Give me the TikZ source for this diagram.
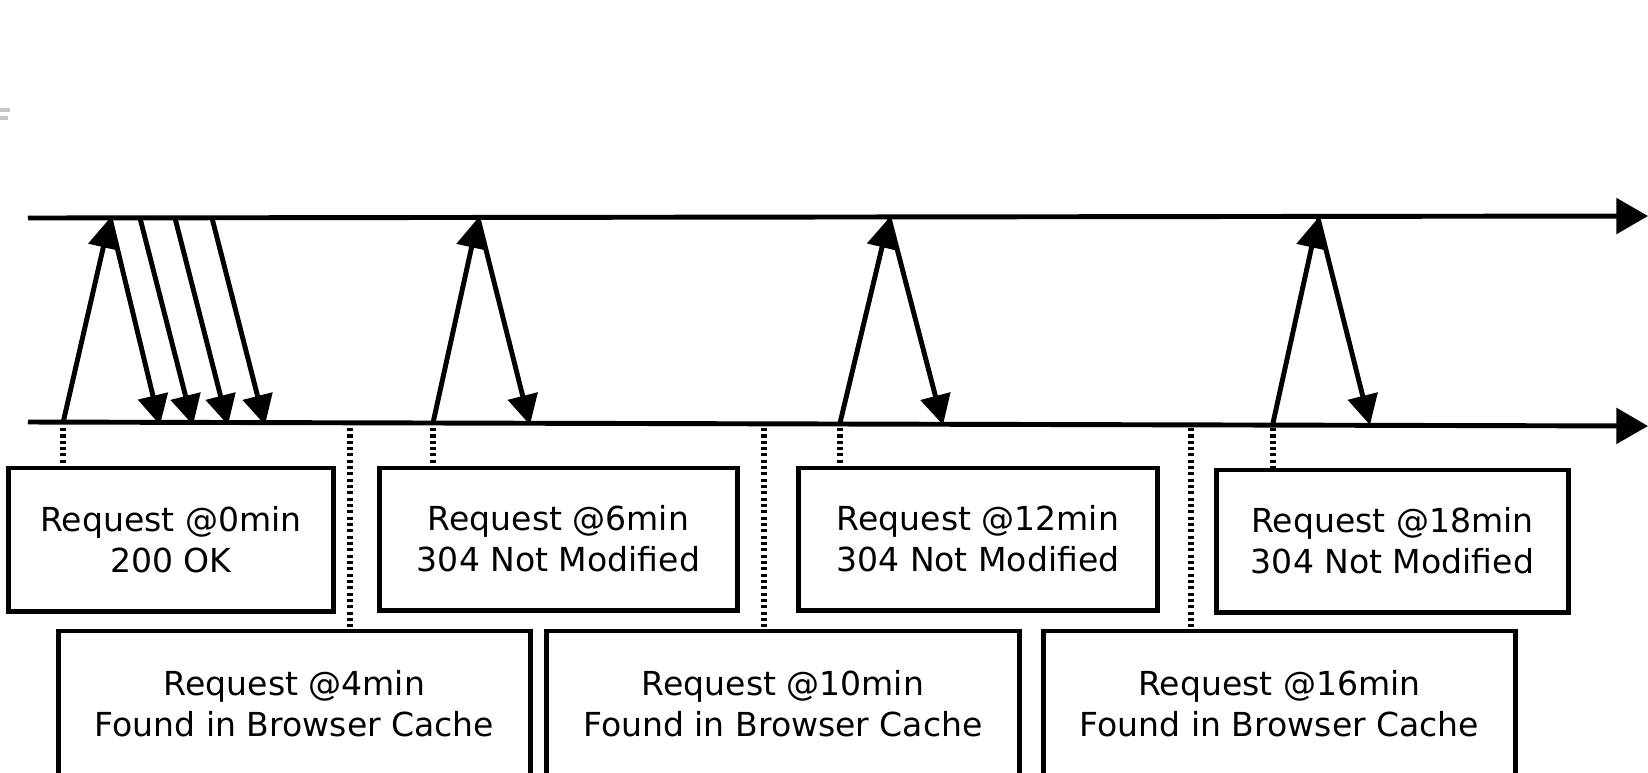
\documentclass[tikz,border=0pt]{standalone}
\usepackage{fontspec}
\setmainfont{DejaVu Sans}
\usetikzlibrary{arrows.meta}

\begin{document}
\begin{tikzpicture}[x=0.01cm,y=-0.01cm,
		axis/.style={line width=1.4pt,-{Triangle[length=9pt,width=10pt]}},
		msg/.style={line width=1.4pt,-{Triangle[length=8.5pt,width=8.5pt]}},
		guide/.style={line width=1.5pt,dash pattern=on 0.9pt off 0.9pt},
		box/.style={draw,line width=1.4pt,align=center,inner sep=0pt,
			font=\fontsize{9.4}{11.7}\selectfont}]
			\useasboundingbox (0,0) rectangle (1648,772);
			\fill[gray!45] (0,108) rectangle (10,112);
			\fill[gray!45] (0,116) rectangle (8,120);
			% the two time lines
			\coordinate (sl) at (28,218);
			\coordinate (sr) at (1648,216);
			\coordinate (cl) at (28,422);
			\coordinate (cr) at (1648,426);
			\draw[axis] (sl) -- (sr);
			\draw[axis] (cl) -- (cr);
			% first request and its answers
			\coordinate (b0) at (63,423);
			\coordinate (t0) at (110,218);
			\draw[msg] (b0) -- (t0);
			\foreach \s/\e [count=\i] in {110/160,140/193,175/228,212/265}{
				\coordinate (u\i) at (\s,218);
				\coordinate (v\i) at (\e,425);
				\draw[msg] (u\i) -- (v\i);
			}
			% later requests
			\foreach \n/\b/\t/\e in {6/433/478/530,12/840/889/943,18/1273/1318/1370}{
				\coordinate (b\n) at (\b,423);
				\coordinate (t\n) at (\t,218);
				\coordinate (e\n) at (\e,425);
				\draw[msg] (b\n) -- (t\n);
				\draw[msg] (t\n) -- (e\n);
			}
			% boxes
			\node[box,minimum width=3.24cm,minimum height=1.43cm] (r0) at (171,539.5) {Request @0min\\200 OK};
			\node[box,minimum width=3.57cm,minimum height=1.42cm] (r6) at (558.5,539) {Request @6min\\304 Not Modified};
			\node[box,minimum width=3.58cm,minimum height=1.42cm] (r12) at (978,539) {Request @12min\\304 Not Modified};
			\node[box,minimum width=3.51cm,minimum height=1.42cm] (r18) at (1392.5,541) {Request @18min\\304 Not Modified};
			\node[box,minimum width=4.71cm,minimum height=1.45cm] (r4) at (294.5,703.5) {Request @4min\\Found in Browser Cache};
			\node[box,minimum width=4.72cm,minimum height=1.45cm] (r10) at (783,703.5) {Request @10min\\Found in Browser Cache};
			\node[box,minimum width=4.71cm,minimum height=1.45cm] (r16) at (1279.5,703.5) {Request @16min\\Found in Browser Cache};
			% dotted guides
			\foreach \n in {0,6,12,18}
				\draw[guide] ([yshift=-0.05cm]b\n) -- (b\n |- r\n.north);
			\foreach \n/\x in {4/350,10/764,16/1191}{
				\coordinate (g\n) at (\x,428);
				\draw[guide] (g\n) -- (g\n |- r\n.north);
			}
		\end{tikzpicture}
\end{document}
